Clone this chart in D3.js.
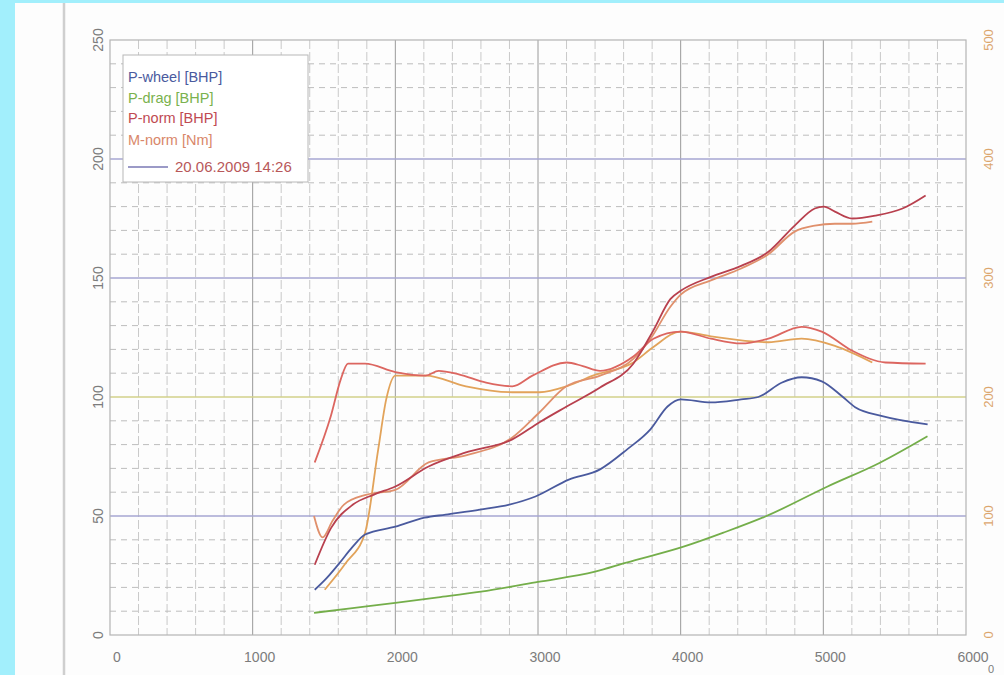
<!DOCTYPE html>
<html>
<head>
<meta charset="utf-8">
<script src="https://cdn.jsdelivr.net/npm/d3@7"></script>
<style>
  body { margin: 0; background: #fff; }
  svg { display: block; }
  text { font-family: "Liberation Sans", Arial, sans-serif; }
</style>
</head>
<body>
<svg id="chart" width="1004" height="675"></svg>
<script>
const width = 1004;
const height = 675;

// Tick labels
const rpmTicks = [0, 1000, 2000, 3000, 4000, 5000, 6000];
const hpTicks = [0, 50, 100, 150, 200, 250];
const nmTicks = [0, 100, 200, 300, 400, 500];

// P-wheel [BHP]
const wheelRpm = [1435, 1520, 1611, 1700, 1788, 2000, 2205, 2353, 2594, 2799, 2982, 3216, 3435, 3625, 3788, 3908, 4000, 4212, 4424, 4544, 4707, 4848, 4989, 5131, 5223, 5413, 5731];
const wheelHp = [19, 24, 30.4, 37, 42.2, 45.5, 49.3, 50.6, 52.7, 54.8, 58.2, 65.3, 69.6, 78, 86.4, 96, 99, 97.7, 99, 100, 106, 108.3, 106.6, 100.3, 95.7, 92, 88.5];

// P-drag [BHP]
const dragRpm = [1430, 1700, 2000, 2300, 2600, 3000, 3400, 3620, 4020, 4300, 4590, 5030, 5400, 5730];
const dragHp = [9.3, 11.3, 13.5, 15.8, 18.2, 22.3, 26.6, 30.4, 37.1, 43, 49.7, 62.4, 72.5, 83.5];

// P-norm [BHP], two runs
const normRpmA = [1435, 1550, 1703, 1850, 2000, 2233, 2495, 2820, 3011, 3201, 3435, 3668, 3809, 3929, 4000, 4212, 4424, 4615, 4799, 4940, 5004, 5081, 5201, 5364, 5555, 5717];
const normHpA = [29.5, 45, 54.8, 59, 62.4, 70.8, 76.7, 82.2, 89.4, 96, 104, 114, 128, 141.2, 144.6, 150.5, 155.1, 161, 172, 179.2, 180, 177.9, 175, 176.2, 179.2, 184.7];
const normRpmB = [1430, 1490, 1560, 1640, 1800, 2000, 2233, 2495, 2820, 3011, 3201, 3435, 3668, 3788, 3929, 4000, 4212, 4424, 4615, 4799, 4940, 5081, 5201, 5343];
const normHpB = [50, 41, 48, 54.8, 59, 61, 72.5, 75.5, 83, 93.6, 104.6, 109, 116, 124.4, 138, 143, 149, 154, 160, 169.5, 172, 172.8, 172.8, 173.7];

// M-norm [Nm], two runs
const torqueRpmA = [1435, 1548, 1618, 1668, 1788, 2000, 2212, 2304, 2445, 2636, 2820, 2961, 3201, 3314, 3435, 3668, 3809, 4000, 4212, 4424, 4615, 4848, 4989, 5201, 5435, 5717];
const torqueNmA = [145, 184, 215, 228, 228, 221, 218, 222, 219, 212, 209, 218, 229, 226, 222, 234, 249, 255, 249, 245, 249, 259, 255, 239, 229, 228];
const torqueRpmB = [1505, 1650, 1788, 1880, 1936, 2000, 2212, 2495, 2820, 3011, 3201, 3385, 3668, 3809, 4000, 4212, 4615, 4848, 5081, 5343];
const torqueNmB = [38, 60, 86, 156, 198, 218, 218, 209, 204, 204, 209, 218, 229, 242, 255, 251, 246, 249, 243, 229];

const legendLabels = ["P-wheel [BHP]", "P-drag [BHP]", "P-norm [BHP]", "M-norm [Nm]"];
const legendColors = ["#4a5a9e", "#7ab24e", "#c04a52", "#d9876a"];
const runLabel = "20.06.2009 14:26";

const svg = d3.select("#chart");

// scanned page look: cyan border and page edge
svg.append("rect").attr("width", width).attr("height", height).attr("fill", "#fdfdfd");
svg.append("rect").attr("x", 0).attr("y", 0).attr("width", 15).attr("height", height).attr("fill", "#a2effc");
svg.append("rect").attr("x", 0).attr("y", 0).attr("width", width).attr("height", 3).attr("fill", "#a2effc");
svg.append("line").attr("x1", 64).attr("x2", 64).attr("y1", 3).attr("y2", height)
  .attr("stroke", "#cfcfcf").attr("stroke-width", 2.5);

// scales
const x = d3.scaleLinear().domain([0, 6000]).range([110, 966]);
const yHp = d3.scaleLinear().domain([0, 250]).range([635, 40]);
const yNm = d3.scaleLinear().domain([0, 500]).range([635, 40]);

const grid = svg.append("g");

// vertical grid: every 200 rpm, darker at 1000s
grid.selectAll("line.vminor")
  .data(d3.range(200, 6000, 200).filter(d => d % 1000 !== 0))
  .join("line")
  .attr("x1", d => x(d)).attr("x2", d => x(d))
  .attr("y1", yHp(250)).attr("y2", yHp(0))
  .attr("stroke", "#c9c9c9").attr("stroke-width", 1)
  .attr("stroke-dasharray", "9,3");

grid.selectAll("line.vmajor")
  .data(d3.range(1000, 6000, 1000))
  .join("line")
  .attr("x1", d => x(d)).attr("x2", d => x(d))
  .attr("y1", yHp(250)).attr("y2", yHp(0))
  .attr("stroke", "#9a9a9a").attr("stroke-width", 1);

// horizontal grid: dashed every 10, coloured every 50
grid.selectAll("line.hminor")
  .data(d3.range(10, 250, 10).filter(d => d % 50 !== 0))
  .join("line")
  .attr("x1", x(0)).attr("x2", x(6000))
  .attr("y1", d => yHp(d)).attr("y2", d => yHp(d))
  .attr("stroke", "#bdbdbd").attr("stroke-width", 1)
  .attr("stroke-dasharray", "6,5");

const majorColor = d => d === 100 ? "#d2d08a" : "#a6a6d2";
grid.selectAll("line.hmajor")
  .data([50, 100, 150, 200])
  .join("line")
  .attr("x1", x(0)).attr("x2", x(6000))
  .attr("y1", d => yHp(d)).attr("y2", d => yHp(d))
  .attr("stroke", majorColor).attr("stroke-width", 1.3);

// frame
svg.append("rect")
  .attr("x", x(0)).attr("y", yHp(250))
  .attr("width", x(6000) - x(0)).attr("height", yHp(0) - yHp(250))
  .attr("fill", "none").attr("stroke", "#b4b4b4").attr("stroke-width", 1.2);

// axes labels
svg.append("g").selectAll("text")
  .data(rpmTicks)
  .join("text")
  .attr("x", d => x(d) + 7).attr("y", 662)
  .attr("text-anchor", "middle")
  .attr("font-size", 14).attr("fill", "#7c7c7c")
  .text(d => d);

svg.append("g").selectAll("text")
  .data(hpTicks)
  .join("text")
  .attr("transform", d => `translate(103,${yHp(d)}) rotate(-90)`)
  .attr("text-anchor", "middle")
  .attr("font-size", 14).attr("fill", "#7c7c7c")
  .text(d => d);

svg.append("g").selectAll("text")
  .data(nmTicks)
  .join("text")
  .attr("transform", d => `translate(993,${yNm(d)}) rotate(-90)`)
  .attr("text-anchor", "middle")
  .attr("font-size", 13).attr("fill", "#dca66e")
  .text(d => d);

svg.append("text").attr("x", 991).attr("y", 673)
  .attr("text-anchor", "middle").attr("font-size", 11).attr("fill", "#7c7c7c").text("0");

// curves
const line = (yScale) => d3.line()
  .x(d => x(d[0]))
  .y(d => yScale(d[1]))
  .curve(d3.curveMonotoneX);

const series = [
  { rpm: dragRpm, val: dragHp, y: yHp, color: "#74ae4a" },
  { rpm: torqueRpmB, val: torqueNmB, y: yNm, color: "#e2a35a" },
  { rpm: normRpmB, val: normHpB, y: yHp, color: "#e0906c" },
  { rpm: torqueRpmA, val: torqueNmA, y: yNm, color: "#dc6660" },
  { rpm: normRpmA, val: normHpA, y: yHp, color: "#b8404e" },
  { rpm: wheelRpm, val: wheelHp, y: yHp, color: "#4a5a9e" }
];

svg.append("g").selectAll("path")
  .data(series)
  .join("path")
  .attr("d", s => line(s.y)(s.rpm.map((r, i) => [r, s.val[i]])))
  .attr("fill", "none")
  .attr("stroke", s => s.color)
  .attr("stroke-width", 1.8)
  .attr("stroke-linejoin", "round");

// legend
const legend = svg.append("g");
legend.append("rect")
  .attr("x", 123).attr("y", 55).attr("width", 185).attr("height", 127)
  .attr("fill", "#ffffff").attr("stroke", "#b8b8b8").attr("stroke-width", 1);

legend.selectAll("text.item")
  .data(legendLabels)
  .join("text")
  .attr("x", 128)
  .attr("y", (d, i) => [82, 103, 123, 145][i])
  .attr("font-size", 14.5)
  .attr("fill", (d, i) => legendColors[i])
  .text(d => d);

legend.append("line")
  .attr("x1", 128).attr("x2", 168).attr("y1", 167).attr("y2", 167)
  .attr("stroke", "#7a78b4").attr("stroke-width", 1.3);
legend.append("text")
  .attr("x", 175).attr("y", 172)
  .attr("font-size", 15)
  .attr("fill", "#b8585a")
  .text(runLabel);
</script>
</body>
</html>
